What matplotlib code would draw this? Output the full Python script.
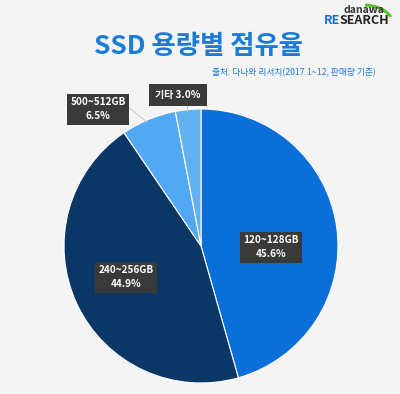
import matplotlib
matplotlib.use("Agg")
import matplotlib.pyplot as plt
from matplotlib.patches import Arc
import numpy as np

plt.rcParams['font.family'] = ['Noto Sans CJK KR', 'DejaVu Sans']

categories = ["120~128GB", "240~256GB", "500~512GB", "기타"]
shares = [45.6, 44.9, 6.5, 3.0]
colors = ["#0a6fd8", "#0b3767", "#52a8f2", "#62b2f2"]

W, H = 400, 394
fig = plt.figure(figsize=(W/100, H/100), dpi=100)
fig.patch.set_facecolor("#f4f4f4")

cx, cy, r = 201, 246, 137
ax = fig.add_axes([(cx-r)/W, (H-cy-r)/H, 2*r/W, 2*r/H])
ax.set_facecolor("none")
wedges, _ = ax.pie(shares, colors=colors, startangle=90, counterclock=False,
                   wedgeprops=dict(edgecolor="white", linewidth=0.8))
ax.set_xlim(-1, 1); ax.set_ylim(-1, 1)
ax.set_aspect("equal")
ax.axis("off")

def fx(px): return px / W
def fy(py): return 1 - py / H

# Title
fig.text(fx(199), fy(47), "SSD 용량별 점유율", ha="center", va="center",
         fontsize=19, fontweight="bold", color="#1a7bd8")
fig.text(fx(376), fy(73), "출처: 다나와 리서치(2017.1~12, 판매량 기준)", ha="right",
         va="center", fontsize=6.3, fontweight="medium", color="#1a7bd8")

# Logo
lax = fig.add_axes([0, 0, 1, 1], facecolor="none")
lax.set_xlim(0, W); lax.set_ylim(H, 0); lax.axis("off")
lax.add_patch(Arc((362, 22), 60, 34, theta1=280, theta2=350, color="#5cbf2a", lw=2.2))
fig.text(fx(364), fy(10), "danawa", ha="center", va="center", fontsize=7.5,
         fontweight="bold", color="#333333")
fig.text(fx(340), fy(20), "RE", ha="right", va="center", fontsize=9,
         fontweight="bold", color="#1a6fd0")
fig.text(fx(340), fy(20), "SEARCH", ha="left", va="center", fontsize=9,
         fontweight="bold", color="#222222")

box = dict(boxstyle="square,pad=0.35", facecolor="#3a3a3a", edgecolor="none")
box1 = dict(boxstyle="square,pad=0.6", facecolor="#3a3a3a", edgecolor="none")

def label(px, py, txt, b=box):
    fig.text(fx(px), fy(py), txt, ha="center", va="center", fontsize=7.2,
             fontweight="bold", color="white", bbox=b, linespacing=1.5)

label(271, 247, f"{categories[0]}\n{shares[0]}%")
label(126, 277, f"{categories[1]}\n{shares[1]}%")
label(98, 109, f"{categories[2]}\n{shares[2]}%")
label(178, 95, f"{categories[3]} {shares[3]}%", box1)

# Leader lines
lax.plot([128, 147], [107, 122], color="#c8c8c8", lw=0.7)
lax.plot([187, 187], [106, 111], color="#c8c8c8", lw=0.7)

fig.savefig("out.png", dpi=100, facecolor=fig.get_facecolor())
